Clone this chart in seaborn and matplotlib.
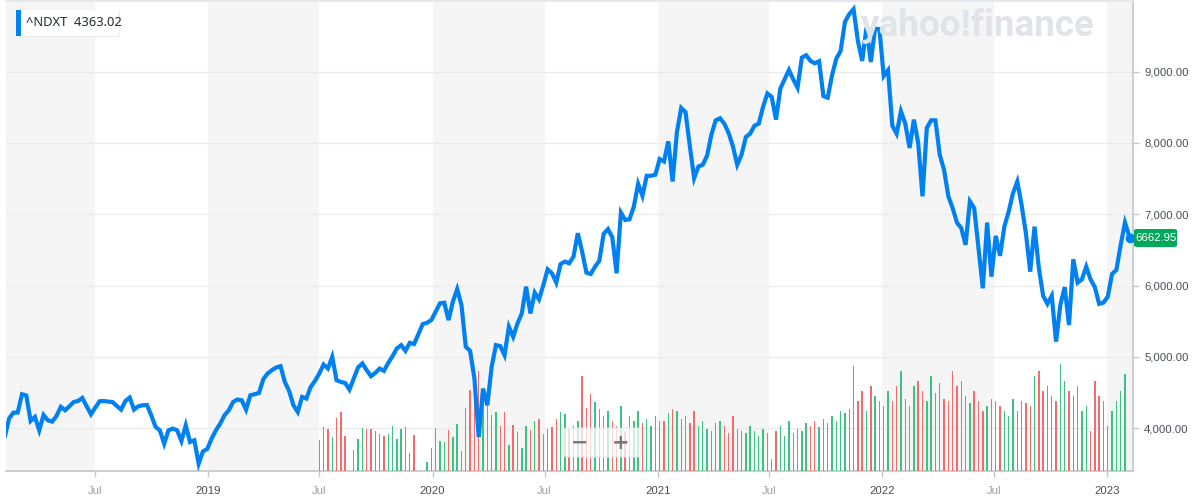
import numpy as np
import pandas as pd
import matplotlib
matplotlib.use("Agg")
import matplotlib.pyplot as plt
import matplotlib.dates as mdates
import seaborn as sns
from matplotlib.patches import FancyBboxPatch, Rectangle
from matplotlib.ticker import FixedLocator, FuncFormatter

# ---------------- data ----------------
symbol = "^NDXT"
legend_value = "4363.02"
last_value = 6662.95
first_week = "2018-02-05"
last_date = "2023-02-07"

close = [
    3880, 4136, 4220, 4220, 4478, 4459, 4103, 4159, 3972, 4187,
    4112, 4094, 4173, 4300, 4253, 4309, 4369, 4383, 4426, 4309,
    4197, 4290, 4379, 4383, 4374, 4369, 4313, 4262, 4383, 4431,
    4262, 4309, 4323, 4327, 4183, 4019, 3972, 3785, 3972, 3996,
    3972, 3822, 4042, 3808, 3832, 3504, 3677, 3710, 3855, 3972,
    4066, 4183, 4253, 4369, 4403, 4393, 4262, 4463, 4478, 4496,
    4688, 4768, 4815, 4853, 4871, 4650, 4524, 4323, 4229, 4440,
    4417, 4580, 4664, 4768, 4894, 4838, 5001, 4674, 4650, 4636,
    4543, 4697, 4853, 4909, 4815, 4730, 4777, 4838, 4805, 4917,
    5011, 5119, 5166, 5086, 5198, 5180, 5320, 5461, 5479, 5517,
    5634, 5751, 5760, 5517, 5774, 5951, 5727, 5142, 5086, 4698,
    3878, 4557, 4323, 4861, 5166, 5152, 5025, 5423, 5282, 5470,
    5610, 5985, 5610, 5901, 5807, 6008, 6228, 6172, 6041, 6303,
    6336, 6313, 6406, 6734, 6476, 6181, 6163, 6265, 6350, 6725,
    6791, 6678, 6172, 7023, 6920, 6929, 7107, 7426, 7258, 7539,
    7539, 7553, 7773, 7740, 8021, 7458, 8150, 8490, 8431, 7954,
    7505, 7669, 7693, 7820, 8115, 8316, 8345, 8270, 8138, 7951,
    7693, 7834, 8082, 8129, 8241, 8270, 8506, 8692, 8645, 8326,
    8760, 8890, 9021, 8890, 8773, 9195, 9228, 9148, 9115, 9143,
    8656, 8633, 8947, 9181, 9288, 9696, 9804, 9874, 9429, 9148,
    9616, 9134, 9602, 9593, 8937, 9017, 8241, 8129, 8442, 8270,
    7928, 8326, 8000, 7251, 8209, 8316, 8316, 7834, 7623, 7251,
    7085, 6883, 6805, 6571, 7180, 7085, 6524, 5962, 6883, 6125,
    6697, 6417, 6826, 7037, 7294, 7458, 7131, 6734, 6195, 6826,
    6247, 5857, 5744, 5857, 5215, 5730, 5978, 5447, 6369, 6041,
    6088, 6265, 6088, 5978, 5744, 5761, 5845, 6163, 6219, 6571,
    6883, 6662.95,
]

volume_start = "2019-07-01"
volume = [
    31, 44, 42, 34, 53, 59, 35, 0, 21, 32,
    43, 42, 42, 40, 37, 35, 37, 45, 32, 42,
    44, 18, 36, 0, 0, 9, 23, 43, 30, 29,
    41, 34, 47, 20, 63, 81, 95, 100, 69, 68,
    56, 59, 45, 59, 26, 46, 39, 23, 45, 41,
    50, 52, 37, 42, 44, 52, 59, 57, 42, 45,
    50, 95, 63, 77, 69, 62,
    55, 60, 50, 45, 65, 40, 55, 50, 60, 48,
    52, 45, 55, 50, 50, 58, 62, 60, 52, 55,
    48, 60, 45, 50, 42, 40, 48, 50, 45, 38,
    55, 42, 40, 38, 45, 40, 35, 42, 38, 12,
    40, 45, 35, 50, 38, 42, 40, 48, 45, 50,
    44, 52, 48, 55, 50, 60, 58, 62, 105, 70,
    80, 60, 85, 75, 70, 65, 80, 70, 85, 100,
    72, 65, 85, 90, 80, 70, 95, 78, 88, 72,
    70, 100, 85, 90, 75, 68, 80, 70, 60, 65,
    72, 70, 65, 60, 55, 72, 60, 70, 68, 65,
    95, 100, 80, 85, 75, 70, 107, 90, 80, 75,
    85, 60, 65, 40, 90, 75, 70, 45, 60, 70,
    80, 97,
]

y_ticks = [4000, 5000, 6000, 7000, 8000, 9000]
x_start, x_end = "2018-02-07", "2023-02-12"
band_years = [2018, 2019, 2020, 2021, 2022, 2023]

# ---------------- frames ----------------
dates = pd.date_range(first_week, periods=len(close) - 1, freq="7D")
dates = dates.append(pd.DatetimeIndex([pd.Timestamp(last_date)]))
price = pd.DataFrame({"date": dates, "close": close})

vdates = pd.date_range(volume_start, periods=len(volume), freq="7D")
vol = pd.DataFrame({"date": vdates, "volume": volume})
prev = price.set_index("date")["close"].shift(1)
cur = price.set_index("date")["close"]
vol["up"] = [bool(cur[d] >= prev[d]) for d in vdates]

# ---------------- figure ----------------
W, H = 1192, 498
sns.set_theme(style="white")
plt.rcParams["font.family"] = ["Liberation Sans", "DejaVu Sans"]
fig = plt.figure(figsize=(W / 100, H / 100), dpi=100)
L, R, B, T = 6, 1133, 471, 1
ax = fig.add_axes([L / W, 1 - B / H, (R - L) / W, (B - T) / H])
ax.set_facecolor("white")

BLUE = "#0081f2"
GREEN_BAR = "#3cc384"
RED_BAR = "#f56b6b"

xs, xe = pd.Timestamp(x_start), pd.Timestamp(x_end)
# half-year shaded bands
for yr in band_years:
    a = max(pd.Timestamp(f"{yr}-01-01"), xs)
    b = min(pd.Timestamp(f"{yr}-07-01"), xe)
    if a < b:
        ax.axvspan(a, b, color="#f5f5f5", lw=0, zorder=0)

for yv in y_ticks:
    ax.axhline(yv, color="#ebebeb", lw=1.0, zorder=0.5)

# watermark
fig.text(861 / W, 1 - 36 / H, "yahoo!finance", fontsize=26.5, fontweight="bold",
         family="Roboto", color="#e0e3e8", ha="left", va="baseline", zorder=1)

# volume on twin axis
ax2 = ax.twinx()
ax2.set_position(ax.get_position())
for flag, colr in [(True, GREEN_BAR), (False, RED_BAR)]:
    sub = vol[vol["up"] == flag]
    ax2.bar(sub["date"], sub["volume"], width=2.3, color=colr, lw=0, zorder=2)
ax2.set_ylim(0, B - T)
ax2.set_yticks([])
for s in ax2.spines.values():
    s.set_visible(False)

# price line
ax3 = ax.twinx()
ax3.set_position(ax.get_position())
sns.lineplot(data=price, x="date", y="close", ax=ax3, color=BLUE, lw=3.0,
             zorder=3, solid_joinstyle="miter")
ymin, ymax = 3402, 9988
ax3.set_ylim(ymin, ymax)
ax.set_ylim(ymin, ymax)
for a_ in (ax, ax2, ax3):
    a_.set_xlim(xs, xe)
ax3.set_xlabel("")
ax3.set_ylabel("")
ax3.yaxis.set_major_locator(FixedLocator(y_ticks))
ax3.yaxis.set_major_formatter(FuncFormatter(lambda v, p: f"{v:,.2f}"))
ax3.tick_params(axis="y", right=True, length=4, width=1, color="#c8c8c8",
                labelsize=8.2, labelcolor="#4a4f55", pad=4)
ax.set_yticks([])
for s in ax3.spines.values():
    s.set_visible(False)

# x axis ticks
ticks = []
labels = []
for yr in range(2018, 2024):
    for m in (1, 7):
        t = pd.Timestamp(f"{yr}-{m:02d}-01")
        if xs <= t <= xe:
            ticks.append(t)
            labels.append("Jul" if m == 7 else str(yr))
ax.set_xticks(ticks)
ax.set_xticklabels(labels)
ax.tick_params(axis="x", bottom=True, length=4, width=1, color="#c8c8c8",
               labelsize=8.2, labelcolor="#4a4f55", pad=7)
for lab in ax.get_xticklabels():
    if lab.get_text() == "Jul":
        lab.set_color("#9aa0a6")
ax3.tick_params(axis="x", bottom=False, labelbottom=False)
ax2.tick_params(axis="x", bottom=False, labelbottom=False)

for k, s in ax.spines.items():
    s.set_visible(False)
ax.spines["bottom"].set_visible(True)
ax.spines["bottom"].set_color("#c8c8c8")
ax.spines["right"].set_visible(True)
ax.spines["right"].set_color("#c8c8c8")
ax.spines["top"].set_visible(True)
ax.spines["top"].set_color("#e2e6eb")

# end dot and tag
last_d = price["date"].iloc[-1]
ax3.plot([last_d], [last_value], "o", ms=7, color=BLUE, mec="white", mew=0,
         zorder=5, clip_on=False)
fig.patches.append(FancyBboxPatch((1134 / W, 1 - 247 / H), 43 / W, 18 / H,
                                  boxstyle="round,pad=0,rounding_size=0.003",
                                  transform=fig.transFigure, fc="#00a85a",
                                  ec="none", zorder=6))
fig.text(1155.5 / W, 1 - 238 / H, f"{last_value:.2f}", fontsize=8.2,
         color="white", ha="center", va="center", zorder=7)

# legend box
fig.patches.append(FancyBboxPatch((17 / W, 1 - 37 / H), 103 / W, 27 / H,
                                  boxstyle="round,pad=0,rounding_size=0.003",
                                  transform=fig.transFigure, fc="#dcdcdc",
                                  ec="none", alpha=0.5, zorder=5))
fig.patches.append(FancyBboxPatch((16 / W, 1 - 36 / H), 103 / W, 26 / H,
                                  boxstyle="round,pad=0,rounding_size=0.003",
                                  transform=fig.transFigure, fc="white",
                                  ec="none", zorder=6))
fig.patches.append(Rectangle((16 / W, 1 - 36 / H), 4.5 / W, 26 / H,
                             transform=fig.transFigure, fc=BLUE, ec="none",
                             zorder=7))
fig.text(26 / W, 1 - 23 / H, f"{symbol}  {legend_value}", fontsize=9.3,
         color="#232a31", ha="left", va="center", zorder=8,
         family=["Noto Sans", "DejaVu Sans"])

# zoom control
fig.patches.append(FancyBboxPatch((563 / W, 1 - 457 / H), 78 / W, 29 / H,
                                  boxstyle="round,pad=0,rounding_size=0.004",
                                  transform=fig.transFigure, fc="white",
                                  ec="#e6e6e6", lw=0.8, alpha=0.75, zorder=8))
fig.text(580 / W, 1 - 443 / H, "\u2212", fontsize=15, fontweight="bold",
         color="#7a7a7a", ha="center", va="center", zorder=9,
         family="DejaVu Sans")
fig.text(621 / W, 1 - 443 / H, "+", fontsize=15, fontweight="bold",
         color="#7a7a7a", ha="center", va="center", zorder=9,
         family="DejaVu Sans")

fig.savefig("out.png", dpi=100)
